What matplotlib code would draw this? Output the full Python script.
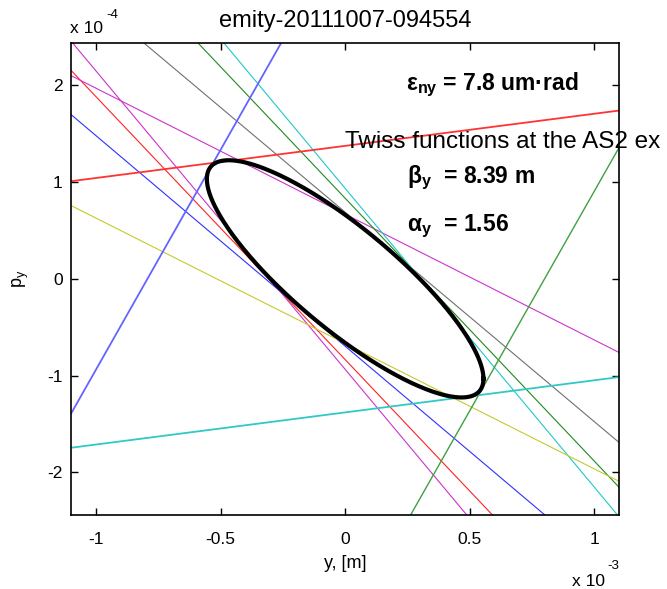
import numpy as np
import matplotlib
matplotlib.use("Agg")
import matplotlib.pyplot as plt
from matplotlib.ticker import FuncFormatter

plt.rcParams['font.family'] = ['Liberation Sans', 'DejaVu Sans']

# measured tangent lines: y' = slope * y + intercept  (slope in rad/m, intercept in rad)
line_slopes = [-0.3084, -0.2717, -0.1301, -0.2176, -0.2165, -0.2717,
               -0.3088, -0.1296, 0.4543, 0.4539, 0.0332, 0.0332]
line_intercepts = [-0.935e-4, -0.834e-4, 0.669e-4, -0.696e-4, 0.689e-4, 0.833e-4,
                   0.935e-4, -0.668e-4, 3.604e-4, -3.632e-4, 1.374e-4, -1.380e-4]
line_colors = ['#cc33cc', '#ff2222', '#cc33cc', '#3030ff', '#707070', '#208a20',
               '#20c8c8', '#c8c830', '#6464ff', '#40a040', '#ff3333', '#30c8c8']
line_widths = [0.8, 0.8, 0.8, 0.8, 0.8, 0.8, 0.8, 0.8, 1.3, 1.0, 1.3, 1.3]

# Twiss parameters of the fitted ellipse
beta_y = 8.39
alpha_y = 1.56
emit_geom = 3.67e-8   # m rad
emit_norm = 7.8       # um rad

title = 'emity-20111007-094554'
# only this much of the label is visible in the original picture
twiss_label = 'Twiss functions at the AS2 ex'
xticks = [-1e-3, -0.5e-3, 0, 0.5e-3, 1e-3]
yticks = [-2e-4, -1e-4, 0, 1e-4, 2e-4]

W, H = 667, 589
fig = plt.figure(figsize=(W / 100, H / 100), dpi=100)
ax = fig.add_axes([71 / W, 1 - 515 / H, (619.3 - 71) / W, (515 - 42.7) / H])

for m, c, col, lw in zip(line_slopes, line_intercepts, line_colors, line_widths):
    ax.axline((0, c), slope=m, color=col, lw=lw)

t = np.linspace(0, 2 * np.pi, 400)
ey = np.sqrt(emit_geom * beta_y) * np.cos(t)
ep = -np.sqrt(emit_geom / beta_y) * (alpha_y * np.cos(t) + np.sin(t))
ax.plot(ey, ep, color='black', lw=3.0)

ax.set_xlim(-1.1e-3, 1.1e-3)
ax.set_ylim(-2.44e-4, 2.44e-4)
ax.set_xticks(xticks)
ax.set_yticks(yticks)
ax.xaxis.set_major_formatter(FuncFormatter(lambda v, p: f'{v / 1e-3:g}'))
ax.yaxis.set_major_formatter(FuncFormatter(lambda v, p: f'{v / 1e-4:g}'))
ax.tick_params(direction='in', top=True, right=True, length=5, width=1.0,
               labelsize=12.5)
ax.tick_params(axis='x', pad=12)
ax.tick_params(axis='y', pad=6)
for s in ax.spines.values():
    s.set_linewidth(1.2)

ax.set_title(title, fontsize=17, pad=11)
ax.set_xlabel('y, [m]', fontsize=13, labelpad=6)
ax.set_ylabel(r'p$_\mathregular{y}$', fontsize=13, labelpad=12)

# offset labels in MATLAB style
fig.text(70 / W, 1 - 33 / H, 'x 10', fontsize=12.5, va='baseline', ha='left')
fig.text(106 / W, 1 - 18 / H, '-4', fontsize=9.5, va='baseline', ha='left')
fig.text(572 / W, 1 - 586 / H, 'x 10', fontsize=12.5, va='baseline', ha='left')
fig.text(607 / W, 1 - 569 / H, '-3', fontsize=9.5, va='baseline', ha='left')

ax.text(0.244e-3, 1.947e-4, r'$\mathregular{\epsilon_{ny}}$' + f' = {emit_norm:g} um\u00b7rad',
        fontsize=16.5, fontweight='bold', va='baseline', ha='left', clip_on=False)
ax.text(0.0e-3, 1.348e-4, twiss_label,
        fontsize=17.5, va='baseline', ha='left', clip_on=False)
ax.text(0.248e-3, 0.987e-4, r'$\mathregular{\beta_{y}}$' + f'  = {beta_y:.2f} m',
        fontsize=16.5, fontweight='bold', va='baseline', ha='left', clip_on=False)
ax.text(0.248e-3, 0.491e-4, r'$\mathregular{\alpha_{y}}$' + f'  = {alpha_y:.2f}',
        fontsize=16.5, fontweight='bold', va='baseline', ha='left', clip_on=False)

fig.savefig('out.png', dpi=100)
